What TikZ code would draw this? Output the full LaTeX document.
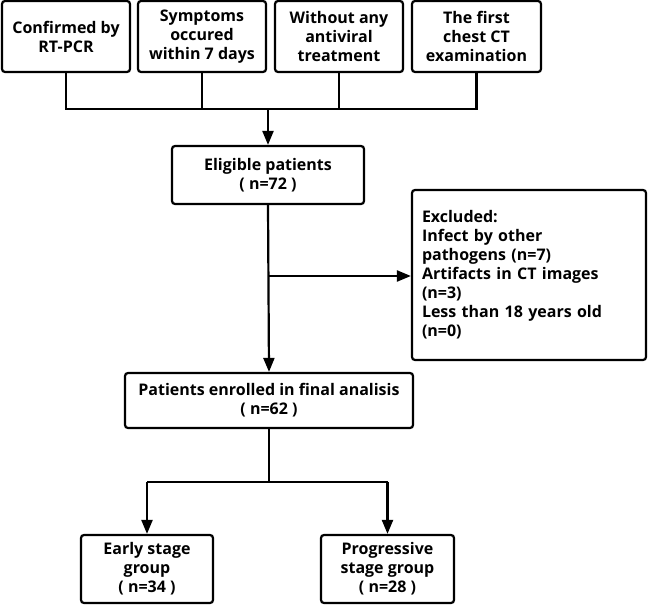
\documentclass[tikz,border=0pt]{standalone}
\usepackage{fontspec}
\setmainfont{Open Sans}
\usetikzlibrary{arrows.meta}
\begin{document}
\begin{tikzpicture}[x=1pt,y=-1pt,
  box/.style={draw, line width=2.2pt, rounded corners=3pt, align=center,
    font=\fontsize{16pt}{19pt}\selectfont\bfseries, inner sep=0pt},
  ln/.style={line width=2.2pt},
  arr/.style={line width=2.2pt, -{Triangle[length=14pt,width=11pt]}}]
\useasboundingbox (0,0) rectangle (649,605);
\node[box, minimum width=128pt, minimum height=71pt] (b1) at (66,36.5) {Confirmed by\\RT-PCR};
\node[box, minimum width=128pt, minimum height=71pt] (b2) at (202,36.5) {Symptoms\\occured\\within 7 days};
\node[box, minimum width=128pt, minimum height=71pt] (b3) at (339,36.5) {Without any\\antiviral\\treatment};
\node[box, minimum width=129pt, minimum height=71pt] (b4) at (476.5,36.5) {The first\\chest CT\\examination};
\node[box, minimum width=192pt, minimum height=58pt] (elig) at (268,175) {Eligible patients\\( n=72 )};
\node[box, minimum width=234pt, minimum height=170pt, text width=214pt, align=left] (excl) at (529,275)
  {Excluded:\\Infect by other\\pathogens (n=7)\\Artifacts in CT images\\(n=3)\\Less than 18 years old\\(n=0)};
\node[box, minimum width=288pt, minimum height=55pt] (enr) at (269,400.5) {Patients enrolled in final analisis\\( n=62 )};
\node[box, minimum width=132pt, minimum height=68pt] (early) at (147,569) {Early stage\\group\\( n=34 )};
\node[box, minimum width=133pt, minimum height=68pt] (prog) at (387.5,569) {Progressive\\stage group\\( n=28 )};
\coordinate (bus) at (0,109);
\coordinate (split) at (0,482);
\coordinate (branch) at (0,276);
\draw[ln] (b1.south) -- (b1.south |- bus) -- (b4.south |- bus) -- (b4.south);
\draw[ln] (b2.south) -- (b2.south |- bus);
\draw[ln] (b3.south) -- (b3.south |- bus);
\draw[arr] (elig.north |- bus) -- (elig.north);
\draw[arr] (elig.south) -- (enr.north);
\draw[arr] (elig.south |- branch) -- (excl.west |- branch);
\draw[ln] (enr.south) -- (enr.south |- split);
\draw[ln] (early.north |- split) -- (prog.north |- split);
\draw[arr] (prog.north |- split) -- (prog.north);
\draw[arr] (early.north |- split) -- (early.north);
\end{tikzpicture}
\end{document}
